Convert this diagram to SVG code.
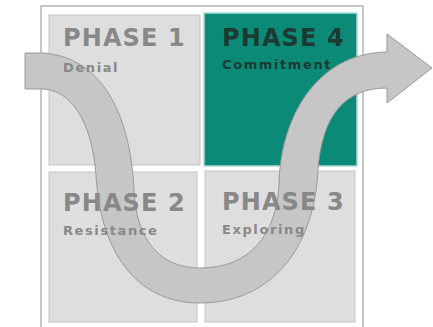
<svg xmlns="http://www.w3.org/2000/svg" width="433" height="327" viewBox="0 0 433 327">
<style>
.sq{fill:#dedede;stroke:#c4c4c4;stroke-width:1}
.sq4{fill:#0b8a78;stroke:#a8dcd6;stroke-width:1.5}
.t{font-family:"DejaVu Sans","Liberation Sans",Arial,sans-serif;font-weight:bold}
.big{font-size:24px;letter-spacing:1.1px}
.small{font-size:13px;letter-spacing:1.6px}
.g{fill:#888888}
.d{fill:#1c3a32}
</style>
<rect width="433" height="327" fill="#ffffff"/>
<rect x="41" y="6" width="322" height="330" fill="none" stroke="#b4b4b4" stroke-width="1.5"/>
<g id="phase1"><rect class="sq" x="49" y="15" width="151" height="150"/></g>
<g id="phase4"><rect class="sq4" x="204" y="13" width="153" height="153"/></g>
<g id="phase2"><rect class="sq" x="49" y="172" width="148" height="150"/></g>
<g id="phase3"><rect class="sq" x="205" y="171" width="150" height="151"/></g>
<g id="connectors">
<path d="M25,53 L44,53 C100,58 130,110 134,190 C136,240 160,268 200,268 C250,268 276,235 279,185 C280,120 315,53 387,52 L387,34 L432,68 L387,103 L387,88 C345,88 322,115 318,170 C314,250 270,303 200,303 C135,303 100,250 96,175 C92,120 70,90 43,89 L25,89 Z" fill="#c6c6c6" stroke="#999999" stroke-width="1"/>
</g>
<g id="labels">
<text class="t big g" x="63" y="46">PHASE 1</text>
<text class="t small g" x="63" y="72">Denial</text>
<text class="t big d" x="222" y="46">PHASE 4</text>
<text class="t small d" x="222" y="69">Commitment</text>
<text class="t big g" x="63" y="211">PHASE 2</text>
<text class="t small g" x="63" y="235">Resistance</text>
<text class="t big g" x="222" y="210">PHASE 3</text>
<text class="t small g" x="222" y="234">Exploring</text>
</g>
</svg>
